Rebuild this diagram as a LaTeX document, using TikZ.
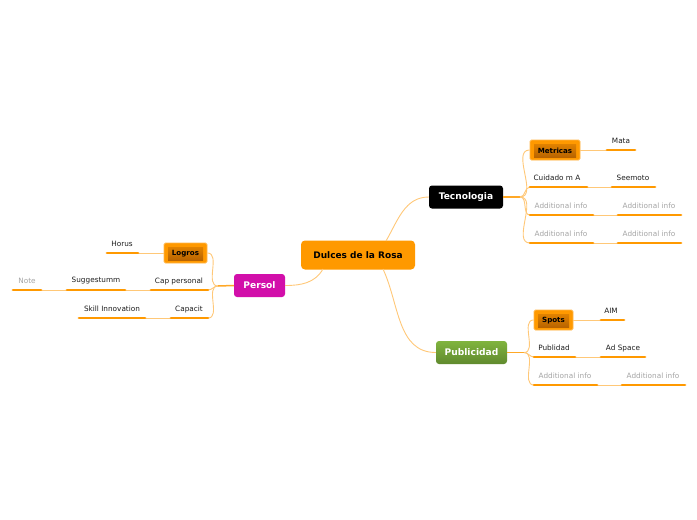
\documentclass[tikz,border=0pt]{standalone}
\usepackage{fontspec}
\setmainfont{DejaVu Sans}
\definecolor{org}{RGB}{255,153,0}
\definecolor{thinc}{RGB}{255,200,120}
\definecolor{graytxt}{RGB}{165,165,165}
\definecolor{darktxt}{RGB}{30,30,30}
\definecolor{persolc}{RGB}{210,15,170}
\definecolor{pubtop}{RGB}{128,180,62}
\definecolor{pubbot}{RGB}{96,138,46}
\definecolor{subtop}{RGB}{225,130,0}
\definecolor{subbot}{RGB}{185,100,0}
\tikzset{
  leaf/.style={inner sep=0pt, text=darktxt, font=\fontsize{7.3}{8}\selectfont},
  gleaf/.style={leaf, text=graytxt},
  uline/.style={draw=org, line width=2.8pt, line cap=round},
  conn/.style={draw=thinc, line width=0.9pt},
  stub/.style={draw=org!85, line width=1.5pt},
  topicbox/.style={rounded corners=3pt, inner sep=0pt, font=\bfseries\fontsize{9.1}{10}\selectfont, text=white},
  subout/.style={fill=org, draw=org!70!white, line width=0.8pt, rounded corners=1.5pt, inner sep=0pt},
  subin/.style={top color=subtop, bottom color=subbot, draw=none, inner sep=0pt, font=\bfseries\fontsize{7.1}{8}\selectfont, text=black},
}
\begin{document}
\begin{tikzpicture}[x=1pt,y=-1pt]
\useasboundingbox[fill=white] (0,0) rectangle (697,520);

% main topics
\node[topicbox, fill=org, text=black, minimum width=114pt, minimum height=29pt, font=\bfseries\fontsize{9}{10}\selectfont, rounded corners=4pt] (central) at (358,255) {Dulces de la Rosa};
\node[topicbox, fill=black, minimum width=74pt, minimum height=23pt] (tec) at (466,197) {Tecnologia};
\node[topicbox, fill=persolc, minimum width=51pt, minimum height=23pt] (persol) at (259.5,285.5) {Persol};
\node[topicbox, top color=pubtop, bottom color=pubbot, minimum width=71pt, minimum height=23pt] (pub) at (471.5,352.5) {Publicidad};

% central connectors
\coordinate (cTop) at (386,241);
\coordinate (cBot) at (383,269);
\coordinate (cLeft) at (323,269);
\draw[conn] (cTop) to[out=60,in=180] (tec.west);
\draw[conn] (cBot) to[out=-65,in=180] (pub.west);
\draw[conn] (cLeft) to[out=-120,in=0] (persol.east);

% ---------- Tecnologia ----------
\coordinate (tf) at (520,197);
\draw[stub] (tec.east) -- (tf);
\node[subout, minimum width=50pt, minimum height=20pt] (metO) at (555,150) {};
\node[subin, minimum width=42pt, minimum height=13pt] (metricas) at (555,150.5) {Metricas};
\node[leaf] (mata) at (621,141) {Mata};
\coordinate (mataL) at (607,150); \coordinate (mataR) at (635,150);
\node[leaf] (cuid) at (557,178) {Cuidado m A};
\coordinate (cuidL) at (530,187); \coordinate (cuidR) at (587,187);
\node[leaf] (seem) at (633,178) {Seemoto};
\coordinate (seemL) at (612,187); \coordinate (seemR) at (655,187);
\node[gleaf] (ai1) at (561,206) {Additional info};
\coordinate (ai1L) at (530,215); \coordinate (ai1R) at (593,215);
\node[gleaf] (ai2) at (649,206) {Additional info};
\coordinate (ai2L) at (618,215); \coordinate (ai2R) at (681,215);
\node[gleaf] (ai3) at (561,234) {Additional info};
\coordinate (ai3L) at (530,243); \coordinate (ai3R) at (593,243);
\node[gleaf] (ai4) at (649,234) {Additional info};
\coordinate (ai4L) at (618,243); \coordinate (ai4R) at (681,243);

\draw[conn] (tf) to[out=0,in=180] (metO.west);
\draw[conn] (tf) to[out=0,in=180] (cuidL);
\draw[conn] (tf) to[out=0,in=180] (ai1L);
\draw[conn] (tf) to[out=0,in=180] (ai3L);
\draw[conn] (metO.east) -- (mataL);
\draw[conn] (cuidR) -- (seemL);
\draw[conn] (ai1R) -- (ai2L);
\draw[conn] (ai3R) -- (ai4L);
\foreach \a in {mata,cuid,seem,ai1,ai2,ai3,ai4}{\draw[uline] (\a L) -- (\a R);}

% ---------- Publicidad ----------
\coordinate (pf) at (524,352.5);
\draw[stub] (pub.east) -- (pf);
\node[subout, minimum width=39pt, minimum height=20pt] (spO) at (553.5,320) {};
\node[subin, minimum width=31pt, minimum height=13pt] (spots) at (553.5,320.5) {Spots};
\node[leaf] (aim) at (611,311) {AIM};
\coordinate (aimL) at (601,320); \coordinate (aimR) at (624,320);
\node[leaf] (publ) at (554,348) {Publidad};
\coordinate (publL) at (534,357); \coordinate (publR) at (575,357);
\node[leaf] (ads) at (623,348) {Ad Space};
\coordinate (adsL) at (601,357); \coordinate (adsR) at (645,357);
\node[gleaf] (ai5) at (565,376) {Additional info};
\coordinate (ai5L) at (534,385); \coordinate (ai5R) at (597,385);
\node[gleaf] (ai6) at (653,376) {Additional info};
\coordinate (ai6L) at (622,385); \coordinate (ai6R) at (685,385);

\draw[conn] (pf) to[out=0,in=180] (spO.west);
\draw[conn] (pf) to[out=0,in=180] (publL);
\draw[conn] (pf) to[out=0,in=180] (ai5L);
\draw[conn] (spO.east) -- (aimL);
\draw[conn] (publR) -- (adsL);
\draw[conn] (ai5R) -- (ai6L);
\foreach \a in {aim,publ,ads,ai5,ai6}{\draw[uline] (\a L) -- (\a R);}

% ---------- Persol ----------
\coordinate (sf) at (218,286);
\draw[stub] (persol.west) -- (sf);
\node[subout, minimum width=43pt, minimum height=20pt] (loO) at (185.5,253) {};
\node[subin, minimum width=35pt, minimum height=13pt] (logros) at (185.5,253.5) {Logros};
\node[leaf] (horus) at (122,244) {Horus};
\coordinate (horusL) at (107,253); \coordinate (horusR) at (138,253);
\node[leaf] (capp) at (179,281) {Cap personal};
\coordinate (cappL) at (151,290); \coordinate (cappR) at (208,290);
\node[leaf] (sugg) at (96,281) {Suggestumm};
\coordinate (suggL) at (67,290); \coordinate (suggR) at (125,290);
\node[gleaf] (note) at (27,281) {Note};
\coordinate (noteL) at (13,290); \coordinate (noteR) at (41,290);
\node[leaf] (capa) at (189,309) {Capacit};
\coordinate (capaL) at (171,318); \coordinate (capaR) at (208,318);
\node[leaf] (skill) at (112,309) {Skill Innovation};
\coordinate (skillL) at (79,318); \coordinate (skillR) at (145,318);

\draw[conn] (sf) to[out=180,in=0] (loO.east);
\draw[conn] (sf) to[out=180,in=0] (cappR);
\draw[conn] (sf) to[out=180,in=0] (capaR);
\draw[conn] (loO.west) -- (horusR);
\draw[conn] (cappL) -- (suggR);
\draw[conn] (suggL) -- (noteR);
\draw[conn] (capaL) -- (skillR);
\foreach \a in {horus,capp,sugg,note,capa,skill}{\draw[uline] (\a L) -- (\a R);}
\end{tikzpicture}
\end{document}
